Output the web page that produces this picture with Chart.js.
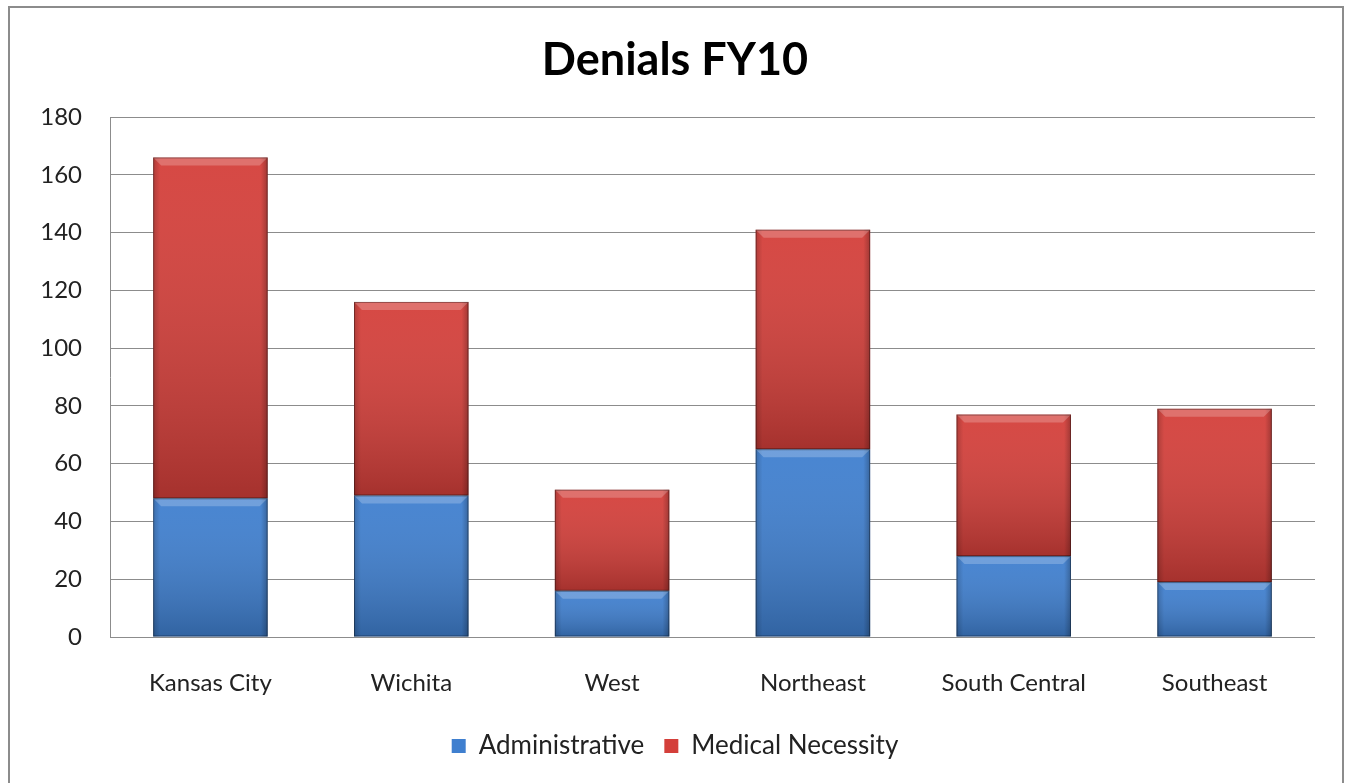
<!DOCTYPE html>
<html>
<head>
<meta charset="utf-8">
<title>Denials FY10</title>
<script src="https://cdn.jsdelivr.net/npm/chart.js@4.4.1/dist/chart.umd.min.js"></script>
<style>
    html, body { margin: 0; padding: 0; background: #fff; }
    #wrap { position: relative; width: 1350px; height: 783px; }
    #frame {
        position: absolute; left: 8px; top: 6px; width: 1336px; height: 790px;
        border: 2px solid #8c8c8c; box-sizing: border-box; pointer-events: none;
    }
    canvas { display: block; }
</style>
</head>
<body>
<div id="wrap">
    <canvas id="denialsChart" width="1350" height="783"></canvas>
    <div id="frame"></div>
</div>
<script>
// Dados do gráfico
const regions = ['Kansas City', 'Wichita', 'West', 'Northeast', 'South Central', 'Southeast'];
const administrative = [48, 49, 16, 65, 28, 19];
const medicalNecessity = [118, 67, 35, 76, 49, 60];
const yTicks = [0, 20, 40, 60, 80, 100, 120, 140, 160, 180];

const FONT = 'Lato, "Open Sans", sans-serif';

// Efeito de bisel nas barras (estilo Excel)
const bevelPlugin = {
    id: 'bevel',
    afterDatasetsDraw(chart) {
        const ctx = chart.ctx;
        chart.data.datasets.forEach((ds, i) => {
            const meta = chart.getDatasetMeta(i);
            meta.data.forEach(bar => {
                const left = bar.x - bar.width / 2;
                const right = bar.x + bar.width / 2;
                const top = Math.min(bar.y, bar.base);
                const bottom = Math.max(bar.y, bar.base);
                const h = bottom - top;
                if (h <= 0) return;
                ctx.save();
                // escurecer para baixo
                const g = ctx.createLinearGradient(0, top, 0, bottom);
                g.addColorStop(0, 'rgba(255,255,255,0.05)');
                g.addColorStop(1, 'rgba(0,0,0,0.22)');
                ctx.fillStyle = g;
                ctx.fillRect(left, top, right - left, h);
                // bordas laterais escuras
                const s = ctx.createLinearGradient(left, 0, right, 0);
                s.addColorStop(0, 'rgba(0,0,0,0.18)');
                s.addColorStop(0.06, 'rgba(0,0,0,0)');
                s.addColorStop(0.94, 'rgba(0,0,0,0)');
                s.addColorStop(1, 'rgba(0,0,0,0.25)');
                ctx.fillStyle = s;
                ctx.fillRect(left, top, right - left, h);
                // faixa de brilho no topo
                const b = Math.min(8, h / 3);
                ctx.beginPath();
                ctx.moveTo(left, top);
                ctx.lineTo(right, top);
                ctx.lineTo(right - b, top + b);
                ctx.lineTo(left + b, top + b);
                ctx.closePath();
                ctx.fillStyle = 'rgba(255,255,255,0.22)';
                ctx.fill();
                ctx.strokeStyle = 'rgba(0,0,0,0.35)';
                ctx.lineWidth = 1;
                ctx.strokeRect(left + 0.5, top + 0.5, right - left - 1, h - 1);
                ctx.restore();
            });
        });
    }
};

new Chart(document.getElementById('denialsChart'), {
    type: 'bar',
    data: {
        labels: regions,
        datasets: [{
            label: 'Administrative',
            data: administrative,
            backgroundColor: '#3f7fcf',
            categoryPercentage: 0.57,
            barPercentage: 1
        }, {
            label: 'Medical Necessity',
            data: medicalNecessity,
            backgroundColor: '#d43f3a',
            categoryPercentage: 0.57,
            barPercentage: 1
        }]
    },
    options: {
        responsive: false,
        animation: false,
        layout: {
            padding: { left: 0, right: 0, top: 0, bottom: 14 }
        },
        plugins: {
            title: {
                display: true,
                text: 'Denials FY10',
                color: '#000',
                font: { family: FONT, size: 45, weight: 'bold' },
                padding: { top: 33, bottom: 30 }
            },
            legend: {
                position: 'bottom',
                labels: {
                    color: '#222',
                    font: { family: FONT, size: 26 },
                    boxWidth: 14,
                    boxHeight: 14,
                    padding: 20
                }
            },
            tooltip: { enabled: false }
        },
        scales: {
            x: {
                stacked: true,
                grid: { display: false },
                border: { display: false },
                ticks: {
                    color: '#222',
                    font: { family: FONT, size: 24 },
                    padding: 24
                },
                afterFit: function(scale) { scale.height = 76; }
            },
            y: {
                stacked: true,
                min: 0,
                max: 180,
                afterBuildTicks: function(scale) {
                    scale.ticks = yTicks.map(v => ({ value: v }));
                },
                grid: { color: '#8c8c8c', drawTicks: false },
                border: { display: true, color: '#8c8c8c' },
                ticks: {
                    color: '#222',
                    font: { family: FONT, size: 24 },
                    padding: 28
                },
                afterFit: function(scale) { scale.width = 110; }
            },
            // eixo vazio à direita só para reservar margem
            yRight: {
                position: 'right',
                min: 0,
                max: 180,
                grid: { display: false },
                border: { display: false },
                ticks: { display: false },
                afterFit: function(scale) { scale.width = 35; }
            }
        }
    },
    plugins: [bevelPlugin]
});
</script>
</body>
</html>
